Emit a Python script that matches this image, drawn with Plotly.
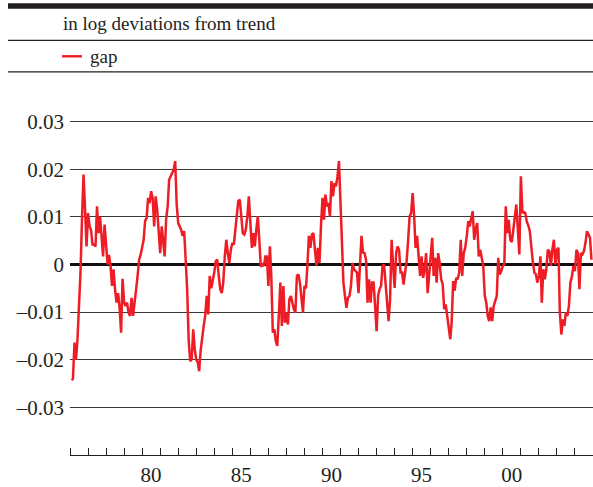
import plotly.graph_objects as go
import pandas as pd

# ---------------- data (monthly output gap, log deviations from trend) ----------------
start_month = "1976-02-01"
gap = [
    # 1976 (Feb-Dec)
    -0.0243, -0.0240, -0.0164, -0.0200, -0.0157, -0.0094, -0.0015, 0.0100, 0.0189, 0.0115, 0.0038,
    # 1977
    0.0108, 0.0080, 0.0073, 0.0042, 0.0042, 0.0038, 0.0122, 0.0066, 0.0100, 0.0060, 0.0017, 0.0084,
    # 1978
    0.0031, 0.0000, 0.0020, -0.0003, -0.0045, -0.0010, -0.0052, -0.0080, -0.0060, -0.0090, -0.0143, -0.0030,
    # 1979
    -0.0080, -0.0087, -0.0080, -0.0101, -0.0108, -0.0070, -0.0108, -0.0073, -0.0052, -0.0024, 0.0010, 0.0020,
    # 1980
    0.0035, 0.0052, 0.0091, 0.0098, 0.0140, 0.0129, 0.0154, 0.0140, 0.0080, 0.0143, 0.0115, 0.0073,
    # 1981
    0.0024, 0.0080, 0.0052, 0.0017, 0.0095, 0.0122, 0.0178, 0.0185, 0.0189, 0.0199, 0.0217, 0.0125,
    # 1982
    0.0087, 0.0080, 0.0073, 0.0060, 0.0070, 0.0010, -0.0052, -0.0160, -0.0203, -0.0199, -0.0136, -0.0178,
    # 1983
    -0.0199, -0.0206, -0.0224, -0.0180, -0.0150, -0.0129, -0.0108, -0.0066, -0.0105, -0.0024, -0.0050, -0.0035,
    # 1984
    -0.0017, 0.0007, 0.0010, -0.0024, -0.0052, -0.0060, -0.0038, 0.0017, 0.0052, 0.0024, 0.0003, 0.0031,
    # 1985
    0.0045, 0.0042, 0.0073, 0.0115, 0.0133, 0.0136, 0.0094, 0.0066, 0.0063, 0.0073, 0.0101, 0.0143,
    # 1986
    0.0087, 0.0035, 0.0066, 0.0038, 0.0073, 0.0101, 0.0052, -0.0005, 0.0000, -0.0003, 0.0017, 0.0017,
    # 1987
    -0.0045, 0.0038, -0.0024, -0.0143, -0.0136, -0.0161, -0.0171, -0.0108, -0.0038, -0.0129, -0.0045, -0.0122,
    # 1988
    -0.0101, -0.0126, -0.0073, -0.0066, -0.0084, -0.0094, -0.0101, -0.0024, -0.0021, -0.0038, -0.0070, -0.0101,
    # 1989
    -0.0045, -0.0050, -0.0003, 0.0060, 0.0035, 0.0063, 0.0066, 0.0038, -0.0003, 0.0035, 0.0003, 0.0080,
    # 1990
    0.0140, 0.0094, 0.0147, 0.0122, 0.0129, 0.0101, 0.0175, 0.0143, 0.0171, 0.0164, 0.0185, 0.0217,
    # 1991
    0.0120, 0.0017, -0.0038, -0.0066, -0.0091, -0.0070, -0.0066, -0.0045, 0.0003, -0.0010, -0.0014, -0.0017,
    # 1992
    -0.0060, 0.0017, 0.0060, 0.0025, 0.0024, 0.0010, -0.0080, -0.0031, -0.0080, -0.0038, -0.0038, -0.0087,
    # 1993
    -0.0140, -0.0066, -0.0052, -0.0045, -0.0003, 0.0000, -0.0035, -0.0066, -0.0119, -0.0073, 0.0052, -0.0003,
    # 1994
    -0.0049, 0.0024, 0.0038, 0.0031, -0.0017, -0.0017, -0.0042, -0.0017, 0.0007, 0.0050, 0.0101, 0.0108,
    # 1995
    0.0150, 0.0101, 0.0035, 0.0060, 0.0024, -0.0024, 0.0017, -0.0028, -0.0010, 0.0024, -0.0060, -0.0024,
    # 1996
    0.0020, 0.0056, -0.0024, 0.0014, -0.0038, 0.0024, 0.0003, -0.0031, -0.0042, -0.0094, -0.0084, -0.0108,
    # 1997
    -0.0122, -0.0157, -0.0122, -0.0035, -0.0055, -0.0028, -0.0031, -0.0017, 0.0052, -0.0024, 0.0024, 0.0035,
    # 1998
    0.0060, 0.0091, 0.0080, 0.0101, 0.0112, 0.0052, 0.0075, 0.0087, 0.0017, 0.0031, 0.0017, -0.0003,
    # 1999
    -0.0066, -0.0080, -0.0108, -0.0119, -0.0090, -0.0119, -0.0087, -0.0075, -0.0066, 0.0014, -0.0021, -0.0014,
    # 2000
    -0.0003, 0.0000, 0.0122, 0.0066, 0.0094, 0.0052, 0.0047, 0.0073, 0.0108, 0.0126, 0.0073, 0.0021,
    # 2001
    0.0185, 0.0108, 0.0110, 0.0108, 0.0090, 0.0082, 0.0070, 0.0030, 0.0005, -0.0017, -0.0020, -0.0038,
    # 2002
    -0.0024, 0.0017, -0.0080, -0.0010, -0.0031, -0.0010, 0.0031, 0.0028, -0.0003, 0.0031, 0.0052, 0.0000,
    # 2003
    0.0031, 0.0035, -0.0100, -0.0147, -0.0115, -0.0129, -0.0101, -0.0108, -0.0087, -0.0038, -0.0025, -0.0003,
    # 2004
    -0.0014, 0.0031, 0.0024, -0.0052, 0.0024, 0.0021, 0.0028, 0.0045, 0.0070, 0.0063, 0.0056, 0.0010,
]
series_name = "gap"
header_text = "in log deviations from trend"

x_range = ["1976-01-01", "2005-01-01"]
year_tick_dates = [f"{y}-01-01" for y in range(1976, 2005)]
year_label_dates = ["1980-07-01", "1985-07-01", "1990-07-01", "1995-07-01", "2000-07-01"]
year_labels = ["80", "85", "90", "95", "00"]

y_range = [-0.04, 0.04]
y_ticks = [-0.03, -0.02, -0.01, 0, 0.01, 0.02, 0.03]
y_tick_text = ["\u20130.03", "\u20130.02", "\u20130.01", "0", "0.01", "0.02", "0.03"]

# ---------------- styling ----------------
W, H = 593, 487
L, R, T, B = 70, 0, 74, 32
PW, PH = W - L - R, H - T - B
RED = "#ee1c25"
INK = "#231f20"
FONT = "'Liberation Serif', 'Times New Roman', Times, 'DejaVu Serif', serif"
FS = 19
TFS = 21


def px_x(x):
    return (x - L) / PW


def px_y(y):
    return (H - B - y) / PH


dates = pd.date_range(start_month, periods=len(gap), freq="MS")

fig = go.Figure()
fig.add_trace(go.Scatter(
    x=dates, y=gap, mode="lines", name=series_name,
    line=dict(color=RED, width=2.5), showlegend=False,
))

fig.update_layout(
    width=W, height=H,
    margin=dict(l=L, r=R, t=T, b=B, pad=0),
    paper_bgcolor="white", plot_bgcolor="white",
    font=dict(family=FONT, size=FS, color=INK),
    xaxis=dict(
        type="date", range=x_range,
        showgrid=False, zeroline=False,
        showline=True, linecolor=INK, linewidth=1.2,
        tickmode="array", tickvals=year_label_dates, ticktext=year_labels,
        ticks="", ticklabelstandoff=1,
        tickfont=dict(family=FONT, size=TFS, color=INK),
        minor=dict(tickmode="array", tickvals=year_tick_dates, ticks="inside",
                   ticklen=7, tickwidth=1, tickcolor=INK, showgrid=False),
    ),
    yaxis=dict(
        range=y_range,
        tickmode="array", tickvals=y_ticks, ticktext=y_tick_text,
        ticks="", showline=False,
        showgrid=True, gridcolor="#3a3a3a", gridwidth=1,
        zeroline=True, zerolinecolor="#111111", zerolinewidth=2.6,
        tickfont=dict(family=FONT, size=TFS, color=INK),
        ticklabelstandoff=5,
    ),
    shapes=[
        dict(type="rect", xref="paper", yref="paper",
             x0=px_x(8), x1=px_x(W), y0=px_y(8.7), y1=px_y(3.2),
             fillcolor=INK, line=dict(width=0)),
        dict(type="line", xref="paper", yref="paper",
             x0=px_x(8), x1=px_x(W), y0=px_y(40.3), y1=px_y(40.3),
             line=dict(color=INK, width=1.2)),
        dict(type="line", xref="paper", yref="paper",
             x0=px_x(8), x1=px_x(W), y0=px_y(71.8), y1=px_y(71.8),
             line=dict(color=INK, width=1.2)),
        dict(type="line", xref="paper", yref="paper",
             x0=px_x(62), x1=px_x(82), y0=px_y(56.3), y1=px_y(56.3),
             line=dict(color=RED, width=2.4)),
    ],
    annotations=[
        dict(text=header_text, xref="paper", yref="paper",
             x=px_x(61), y=px_y(23.5), xanchor="left", yanchor="middle",
             showarrow=False, font=dict(family=FONT, size=FS, color=INK)),
        dict(text=series_name, xref="paper", yref="paper",
             x=px_x(88), y=px_y(56), xanchor="left", yanchor="middle",
             showarrow=False, font=dict(family=FONT, size=FS, color=INK)),
    ],
)

fig.write_html("out.html")
